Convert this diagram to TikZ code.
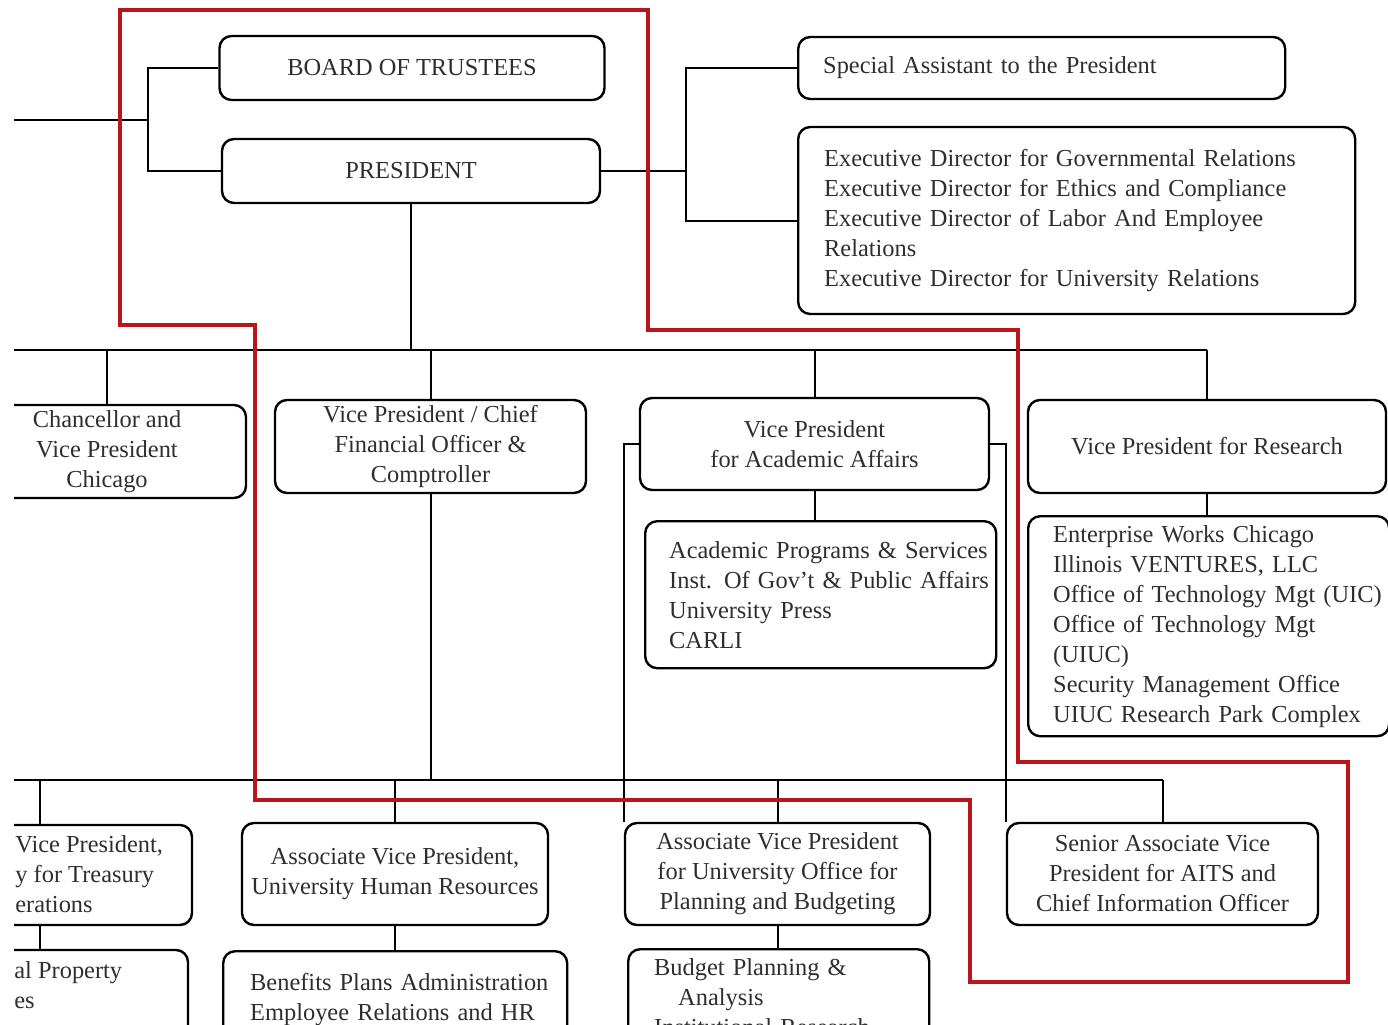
\documentclass[tikz,border=0pt]{standalone}
\usepackage{fontspec}
\setmainfont{Liberation Serif}
\usepackage{tikz}
\usetikzlibrary{positioning, calc}
\definecolor{outline}{HTML}{B8161C}
\definecolor{ink}{HTML}{2E2E2E}

\begin{document}
\begin{tikzpicture}[x=0.5pt, y=-0.5pt,
    font=\fontsize{12.2}{15}\selectfont,
    unit/.style={draw=black, line width=1.2pt, rounded corners=6pt, inner sep=0pt, align=center, text=ink},
    list/.style={unit, align=left},
    wire/.style={line width=1pt}]
    \useasboundingbox (0,0) rectangle (1388,1024);
    \clip (14,0) rectangle (1388,1024);

    % Top: board and president
    \node[unit, minimum width=192.5pt, minimum height=32pt] (board) at (412,68) {BOARD OF TRUSTEES};
    \node[unit, minimum width=189pt, minimum height=32pt] (pres) at (411,171) {PRESIDENT};
    \node[list, anchor=west, inner xsep=12.5pt, text width=218.5pt, minimum height=31pt] (spec) at (797,68) {Special Assistant to the President};
    \node[list, anchor=west, inner xsep=13pt, text width=252.5pt, minimum height=93.5pt] (exec) at (797,220.5)
        {\mbox{Executive Director for Governmental Relations}\\\mbox{Executive Director for Ethics and Compliance}\\\mbox{Executive Director of Labor And Employee}\\Relations\\\mbox{Executive Director for University Relations}};

    % Vice presidents
    \node[unit, minimum width=139pt, minimum height=46.5pt] (chanc) at (107,451.5) {Chancellor and\\Vice President\\Chicago};
    \node[unit, minimum width=155.5pt, minimum height=46.5pt] (cfo) at (430.5,446.5) {Vice President / Chief\\Financial Officer \&\\Comptroller};
    \node[unit, minimum width=174.5pt, minimum height=46pt] (vpaa) at (814.5,444) {Vice President\\for Academic Affairs};
    \node[unit, minimum width=179pt, minimum height=46.5pt] (vpr) at (1207,446.5) {Vice President for Research};

    % Units under the vice presidents
    \node[list, anchor=north west, inner xsep=12pt, text width=151.5pt, minimum height=73.5pt] (acad) at (644,520)
        {\mbox{Academic Programs \& Services}\\\mbox{Inst. Of Gov't \& Public Affairs}\\University Press\\CARLI};
    \node[list, anchor=north west, inner xsep=12.5pt, text width=155.5pt, minimum height=110pt] (res) at (1027,515)
        {Enterprise Works Chicago\\Illinois VENTURES, LLC\\\mbox{Office of Technology Mgt (UIC)}\\Office of Technology Mgt\\(UIUC)\\Security Management Office\\\mbox{UIUC Research Park Complex}};

    % Associate vice presidents
    \node[unit, minimum width=152pt, minimum height=50pt] (avpt) at (40,875) {};
    \node[anchor=west, align=left, inner sep=0pt, text=ink] (avptxt) at (15,874) {Vice President,\\y for Treasury\\erations};
    \node[unit, minimum width=153pt, minimum height=51pt] (avphr) at (395,874) {Associate Vice President,\\University Human Resources};
    \node[unit, minimum width=152.5pt, minimum height=51pt] (avppb) at (777.5,874) {Associate Vice President\\for University Office for\\Planning and Budgeting};
    \node[unit, minimum width=155.5pt, minimum height=51pt] (savp) at (1162.5,874) {Senior Associate Vice\\President for AITS and\\Chief Information Officer};

    % Bottom row, cut by the page edge
    \node[unit, minimum width=148pt, minimum height=50pt] (tsub) at (40,1000) {};
    \node[anchor=west, align=left, inner sep=0pt, text=ink] (tsubtxt) at (14,985) {al Property\\es};
    \node[list, anchor=north west, inner xsep=13.5pt, text width=145pt, minimum height=48pt] (hrsub) at (222,950)
        {\mbox{Benefits Plans Administration}\\\mbox{Employee Relations and HR}};
    \node[list, anchor=north west, inner xsep=13pt, text width=124.5pt, minimum height=48pt] (pbsub) at (627,948)
        {Budget Planning \&\\\hspace*{12pt}Analysis\\\mbox{Institutional Research}};

    % Connectors
    \coordinate (lft) at (14,120);
    \coordinate (jl) at (148,120);
    \coordinate (jr) at (686,144);
    \coordinate (busL) at (14,350);
    \coordinate (busR) at (1207,350);
    \coordinate (bus2L) at (14,780);
    \coordinate (bus2R) at (1163,780);
    \draw[wire] (lft) -- (jl);
    \draw[wire] (board.west) -| (jl) |- (pres.west);
    \draw[wire] (pres.east) -- (pres.east -| jr);
    \draw[wire] (spec.west) -| (jr) |- (exec.west);
    \draw[wire] (pres.south) -- (pres.south |- busL);
    \draw[wire] (busL) -- (busR);
    \foreach \n in {chanc, cfo, vpaa, vpr}
        \draw[wire] (\n.north) -- (\n.north |- busL);
    \draw[wire] (vpaa.south) -- (vpaa.south |- acad.north);
    \draw[wire] (vpr.south) -- (vpr.south |- res.north);
    \draw[wire] (cfo.south) -- (cfo.south |- bus2L);
    \draw[wire] (bus2L) -- (bus2R);
    \foreach \n in {avpt, avphr, avppb, savp}
        \draw[wire] (\n.north) -- (\n.north |- bus2L);
    \draw[wire] (avpt.south) -- (tsub.north);
    \draw[wire] (avphr.south) -- (avphr.south |- hrsub.north);
    \draw[wire] (avppb.south) -- (avppb.south |- pbsub.north);
    \draw[wire] (vpaa.west) -| (avppb.north west);
    \draw[wire] (vpaa.east) -| (savp.north west);

    % Red outline
    \draw[outline, line width=1.7pt] (120,10) -- (648,10) -- (648,330) -- (1018,330) -- (1018,762) -- (1348,762)
        -- (1348,982) -- (970,982) -- (970,800) -- (255,800) -- (255,325) -- (120,325) -- cycle;
\end{tikzpicture}
\end{document}
